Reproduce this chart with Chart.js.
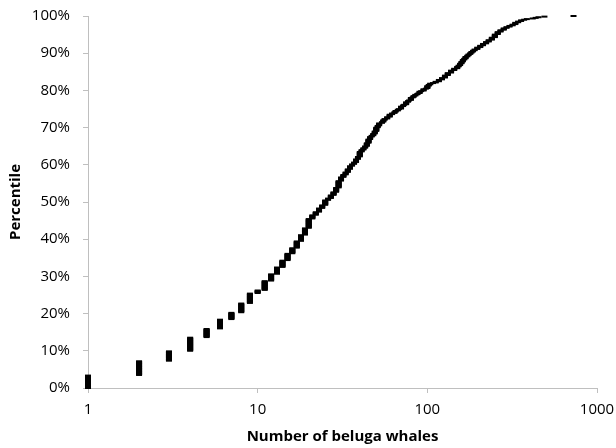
<!DOCTYPE html>
<html><head><meta charset="utf-8">
<script src="https://cdn.jsdelivr.net/npm/chart.js@4.4.1/dist/chart.umd.min.js"></script>
<style>html,body{margin:0;padding:0;background:#fff}canvas{display:block}</style>
</head><body>
<canvas id="c" width="616" height="448"></canvas>
<script>
// Distinct group sizes (number of beluga whales) and how many sightings had each size
const groupSizes = [1,2,3,4,5,6,7,8,9,10,11,12,13,14,15,16,17,18,19,20,21,22,23,24,25,26,27,28,29,30,
  31,32,33,34,35,36,37,38,39,40,41,42,43,44,45,46,47,48,49,50,
  51,52,54,55,56,58,60,62,64,65,67,68,70,72,73,75,77,78,80,82,83,85,87,88,90,92,95,98,100,102,
  104,108,112,117,122,127,132,138,144,150,153,156,159,162,165,168,172,175,179,182,186,190,197,205,213,222,230,240,250,260,270,282,293,305,318,330,343,357,372,386,418,435,452,490,727];
const sightingCounts = [21,23,16,22,14,15,11,15,16,5,15,11,11,11,11,9,11,10,11,15,6,5,6,5,8,3,5,5,7,11,
  6,4,4,5,5,3,3,5,4,8,3,3,3,5,6,4,2,3,4,6,
  3,4,2,3,2,3,4,2,2,2,2,1,4,2,1,4,2,1,4,1,2,2,1,1,3,1,3,1,4,2,
  2,1,2,3,3,4,4,4,3,3,2,3,3,3,2,3,2,2,2,2,2,2,3,3,3,3,3,4,5,4,3,3,2,2,2,3,2,2,1,1,1,1,1,1,1];
const xTickValues = [1, 10, 100, 1000];
const yTickValues = [0, 10, 20, 30, 40, 50, 60, 70, 80, 90, 100];
const xAxisTitle = 'Number of beluga whales';
const yAxisTitle = 'Percentile';

// Empirical cumulative distribution: each sighting ranked, percentile = rank/(n-1)
const total = sightingCounts.reduce((a, b) => a + b, 0);
const points = [];
let rank = 0;
groupSizes.forEach((size, k) => {
  for (let j = 0; j < sightingCounts[k]; j++) {
    points.push({x: size, y: rank / (total - 1) * 100});
    rank++;
  }
});

const FAMILY = '"Open Sans", "DejaVu Sans", sans-serif';
const AXIS = '#bfbfbf';

new Chart(document.getElementById('c').getContext('2d'), {
  type: 'scatter',
  data: {datasets: [{
    data: points,
    pointStyle: 'line',
    pointRadius: 3,
    pointHoverRadius: 3,
    borderWidth: 2,
    borderColor: '#000',
    backgroundColor: '#000',
    clip: false
  }]},
  options: {
    responsive: false,
    animation: false,
    events: [],
    plugins: {legend: {display: false}, tooltip: {enabled: false}},
    layout: {padding: {top: 16, right: 19, left: 0, bottom: 0}},
    scales: {
      x: {
        type: 'logarithmic', min: 1, max: 1000,
        afterBuildTicks: s => { s.ticks = xTickValues.map(v => ({value: v})); },
        ticks: {callback: v => String(v), color: '#000', font: {family: FAMILY, size: 15}, padding: 8, maxRotation: 0, autoSkip: false},
        grid: {drawOnChartArea: false, tickLength: 5, color: AXIS},
        border: {color: AXIS, width: 1},
        title: {display: true, text: xAxisTitle, color: '#000', font: {family: FAMILY, size: 15, weight: 'bold'}, padding: {top: 0, bottom: 2}},
        afterFit: s => { s.height = 60; s.paddingLeft = 0; s.paddingRight = 0; }
      },
      y: {
        min: 0, max: 100,
        afterBuildTicks: s => { s.ticks = yTickValues.map(v => ({value: v})); },
        ticks: {callback: v => v + '%', color: '#000', font: {family: FAMILY, size: 15}, padding: 13},
        grid: {drawOnChartArea: false, tickLength: 5, color: AXIS},
        border: {color: AXIS, width: 1},
        title: {display: true, text: yAxisTitle, color: '#000', font: {family: FAMILY, size: 15, weight: 'bold'}, padding: {top: 7, bottom: 0}},
        afterFit: s => { s.width = 88; s.paddingTop = 0; s.paddingBottom = 0; }
      }
    }
  }
});
</script>
</body></html>
